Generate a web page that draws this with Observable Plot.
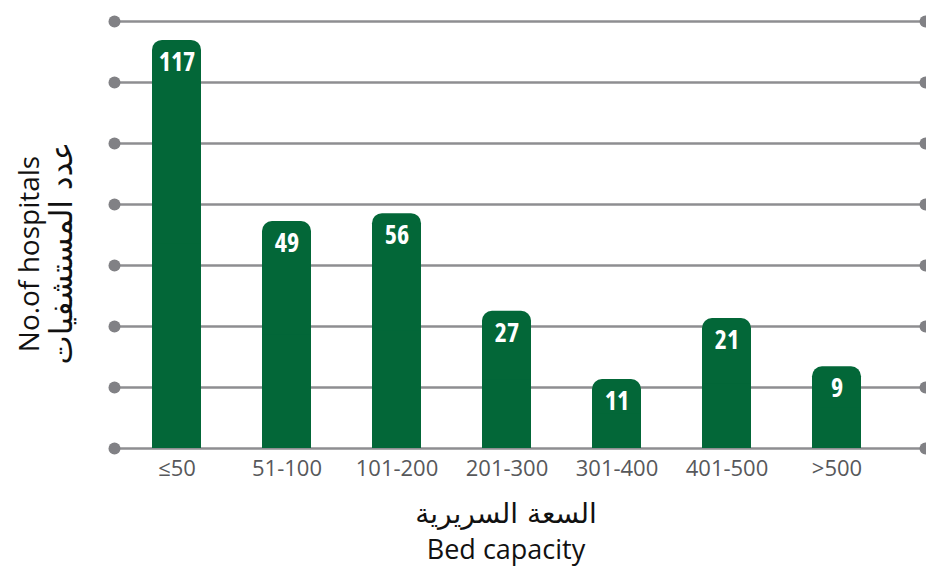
<!DOCTYPE html>
<html>
<head>
<meta charset="utf-8">
<script src="https://cdn.jsdelivr.net/npm/d3@7"></script>
<script src="https://cdn.jsdelivr.net/npm/@observablehq/plot@0.6"></script>
<style>
  html, body { margin: 0; padding: 0; background: #ffffff; }
  #chart svg { display: block; }
  #chart g[fill="white"] text { font-stretch: 75%; }
</style>
</head>
<body>
<div id="chart"></div>
<script>
// Bed-capacity categories (x axis tick labels)
const categories = ["≤50", "51-100", "101-200", "201-300", "301-400", "401-500", ">500"];
// Number of hospitals shown on each bar
const hospitalCounts = [117, 49, 56, 27, 11, 21, 9];
// Bar heights as drawn in the reference, in gridline units (bars are not drawn to scale)
const drawnHeights = [6.69, 3.72, 3.85, 2.25, 1.13, 2.13, 1.34];
// Gridline levels
const gridLevels = [0, 1, 2, 3, 4, 5, 6, 7];

const xTitleAr = "السعة السريرية";
const xTitleEn = "Bed capacity";
const yTitleEn = "No.of hospitals";
const yTitleAr = "عدد المستشفيات";

const data = categories.map((c, i) => ({cat: c, count: hospitalCounts[i], h: drawnHeights[i]}));

const green = "#036738";
const gridGray = "#8e8e91";
const dotGray = "#818185";

const chart = Plot.plot({
  width: 926,
  height: 568,
  marginTop: 21,
  marginBottom: 120,
  marginLeft: 114,
  marginRight: 1,
  style: {background: "transparent", fontFamily: "'Open Sans', sans-serif"},
  x: {type: "band", domain: categories, range: [118.6, 894.3], paddingInner: 0.55, paddingOuter: 0.275, label: null},
  y: {domain: [0, 7], axis: null},
  marks: [
    Plot.ruleY(gridLevels, {stroke: gridGray, strokeWidth: 2.5}),
    Plot.dot(gridLevels, {y: d => d, frameAnchor: "left", r: 6, fill: dotGray}),
    Plot.dot(gridLevels, {y: d => d, frameAnchor: "right", r: 6, fill: dotGray}),
    Plot.barY(data, {x: "cat", y1: 0, y2: "h", rx: 10, fill: green}),
    Plot.barY(data, {x: "cat", y1: 0, y2: d => d.h / 2, fill: green}),
    Plot.text(data, {x: "cat", y: "h", text: d => String(d.count), dy: 22, fill: "white",
      fontSize: 26, fontWeight: "bold", fontFamily: "'Open Sans', sans-serif"}),
    Plot.axisX({tickSize: 0, tickPadding: 12, fontSize: 22, fill: "#57585b", label: null,
      fontFamily: "'Open Sans', sans-serif"}),
    Plot.text([xTitleAr], {frameAnchor: "bottom", dx: -14, dy: 66, textAnchor: "middle", lineAnchor: "middle",
      fontSize: 28, fill: "#111", fontFamily: "'DejaVu Sans', sans-serif"}),
    Plot.text([xTitleEn], {frameAnchor: "bottom", dx: -14, dy: 102, textAnchor: "middle", lineAnchor: "middle",
      fontSize: 27, fill: "#111", fontFamily: "'Open Sans', sans-serif"}),
    Plot.text([yTitleEn], {frameAnchor: "left", dx: -84, dy: 19, rotate: -90, textAnchor: "middle", lineAnchor: "middle",
      fontSize: 28, fill: "#111", fontFamily: "'Open Sans', sans-serif"}),
    Plot.text([yTitleAr], {frameAnchor: "left", dx: -52, dy: 18, rotate: -90, textAnchor: "middle", lineAnchor: "middle",
      fontSize: 31, fill: "#111", fontFamily: "'DejaVu Sans', sans-serif"})
  ]
});

document.getElementById("chart").appendChild(chart);
</script>
</body>
</html>
